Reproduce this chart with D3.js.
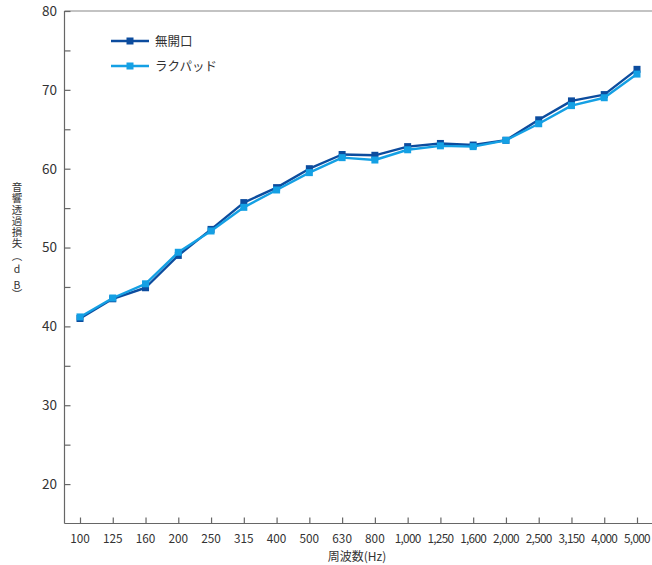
<!DOCTYPE html>
<html><head><meta charset="utf-8">
<script src="https://cdn.jsdelivr.net/npm/d3@7"></script>
<style>
html,body{margin:0;padding:0;background:#fff;}
svg{display:block;font-family:"Noto Sans CJK JP","Noto Sans",sans-serif;}
</style></head>
<body>
<svg id="c" width="652" height="565"></svg>
<script>
const categories = ["100","125","160","200","250","315","400","500","630","800","1,000","1,250","1,600","2,000","2,500","3,150","4,000","5,000"];
const seriesNames = ["無開口","ラクパッド"];
const closedValues = [41.0,43.5,44.9,49.0,52.3,55.7,57.6,60.0,61.8,61.7,62.8,63.2,63.0,63.6,66.2,68.6,69.4,72.6];
const lakpadValues = [41.2,43.6,45.4,49.4,52.1,55.1,57.3,59.5,61.4,61.1,62.4,62.9,62.8,63.6,65.7,68.0,69.0,72.0];
const yMajorTicks = [20,30,40,50,60,70,80];
const yMinorTicks = [25,35,45,55,65,75];
const yTitleChars = ["音","響","透","過","損","失","︵","d","B","︶"];
const colors = ["#0c4c9e","#14a0e4"];

(function(){
const svg = d3.select("#c");
const pLeft = 64.5, pRight = 652, pTop = 11, pBottom = 523.5;
const x = d3.scalePoint().domain(categories).range([80, 637]);
const y = d3.scaleLinear().domain([15, 80]).range([pBottom, pTop]);
const axisColor = "#666";
const textColor = "#333";

svg.append("line").attr("x1", pLeft).attr("x2", pRight).attr("y1", pTop).attr("y2", pTop)
  .attr("stroke", "#888").attr("stroke-width", 1.2);

const yAxis = d3.axisRight(y).tickValues([...yMajorTicks, ...yMinorTicks]).tickSize(6).tickFormat("");
const gy = svg.append("g").attr("transform", `translate(${pLeft},0)`).call(yAxis);
gy.select(".domain").attr("stroke", axisColor).attr("stroke-width", 1.2).attr("d", `M0,${pTop}V${pBottom}`);
gy.selectAll(".tick line").attr("stroke", axisColor).attr("stroke-width", 1.2);
svg.append("g").selectAll("text").data(yMajorTicks).join("text")
  .attr("x", 57).attr("y", d => y(d)).attr("dy", "0.36em")
  .attr("text-anchor", "end").attr("font-size", 13.5).attr("fill", textColor).text(d => d);

const xAxis = d3.axisTop(x).tickSize(6).tickFormat("");
const gx = svg.append("g").attr("transform", `translate(0,${pBottom})`).call(xAxis);
gx.select(".domain").attr("stroke", axisColor).attr("stroke-width", 1.2).attr("d", `M${pLeft},0H${pRight}`);
gx.selectAll(".tick line").attr("stroke", axisColor).attr("stroke-width", 1.2);
svg.append("g").selectAll("text").data(categories).join("text")
  .attr("x", d => x(d)).attr("y", 542.5)
  .attr("text-anchor", "middle").attr("font-size", 11.8)
  .attr("letter-spacing", d => d.length > 3 ? "-0.7" : "0")
  .attr("fill", textColor).text(d => d);

svg.append("text").attr("x", 357).attr("y", 561).attr("text-anchor", "middle")
  .attr("font-size", 12).attr("fill", textColor).text("周波数(Hz)");

// vertical y title: one text element, one glyph per tspan
const yTitleY = [187,198.5,210,221,232,243,256,269,285.5,294.5];
svg.append("text").attr("text-anchor", "middle").attr("font-size", 10.5).attr("fill", textColor)
  .selectAll("tspan").data(yTitleChars).join("tspan")
  .attr("x", 17).attr("y", (d,i) => yTitleY[i] + 3.8).text(d => d);

const data = [closedValues, lakpadValues];
const line = d3.line().x((d,i) => x(categories[i])).y(d => y(d));
data.forEach((vals, s) => {
  const g = svg.append("g");
  g.append("path").datum(vals).attr("d", line).attr("fill", "none")
    .attr("stroke", colors[s]).attr("stroke-width", 2.4).attr("stroke-linejoin", "round");
  g.selectAll("rect").data(vals).join("rect")
    .attr("x", (d,i) => x(categories[i]) - 3.5).attr("y", d => y(d) - 3.5)
    .attr("width", 7).attr("height", 7).attr("fill", colors[s]);
});

const legY = [41, 66];
seriesNames.forEach((name, s) => {
  const g = svg.append("g");
  g.append("line").attr("x1", 111).attr("x2", 149).attr("y1", legY[s]).attr("y2", legY[s])
    .attr("stroke", colors[s]).attr("stroke-width", 2.4);
  g.append("rect").attr("x", 130 - 3.5).attr("y", legY[s] - 3.5).attr("width", 7).attr("height", 7)
    .attr("fill", colors[s]);
  g.append("text").attr("x", 155).attr("y", legY[s]).attr("dy", "0.36em")
    .attr("font-size", 12.5).attr("fill", textColor).text(name);
});
})();
</script>
</body></html>
